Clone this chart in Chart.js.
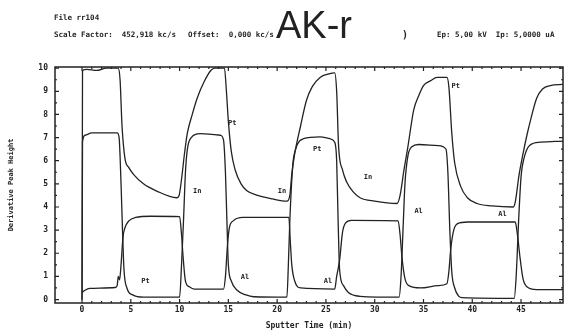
<!DOCTYPE html>
<html>
<head>
<meta charset="utf-8">
<script src="https://cdn.jsdelivr.net/npm/chart.js@4.4.1/dist/chart.umd.min.js"></script>
<style>
  body { margin: 0; background: #fff; }
  #wrap { position: relative; width: 566px; height: 334px; overflow: hidden; }
  .hdr { position: absolute; font-family: "DejaVu Sans Mono", monospace; font-weight: bold; font-size: 7.5px; color: #222; white-space: pre; }
  #big { position: absolute; left: 276px; top: 4px; font-family: "Liberation Sans", Arial, sans-serif; font-size: 38px; color: #222; }
</style>
</head>
<body>
<div id="wrap">
  <canvas id="myChart" width="566" height="334"></canvas>
  <div class="hdr" style="left:54px;top:13px">File rr104</div>
  <div class="hdr" style="left:54px;top:30px">Scale Factor:  452,918 kc/s</div>
  <div class="hdr" style="left:188px;top:30px">Offset:  0,000 kc/s</div>
  <div id="big">AK-r</div>
  <div class="hdr" style="left:402px;top:29px;font-size:10px">)</div>
  <div class="hdr" style="left:437px;top:30px">Ep: 5,00 kV  Ip: 5,0000 uA</div>
</div>
<script>
// sputter time (min) / derivative peak height
const ptTime  = [0, 0.05, 0.5, 1.5, 2.5, 3.7, 3.9, 4.1, 4.4, 4.8, 5.3, 6.3, 7.6, 9.7, 9.95, 10.2, 10.5, 10.8, 11.3, 11.8, 12.5, 13.2, 13.6, 14.6, 14.8, 15.0, 15.3, 15.7, 16.3, 16.9, 18.0, 19.5, 21.0, 21.3, 21.5, 21.8, 22.4, 23.0, 23.6, 24.4, 25.3, 25.9, 26.1, 26.3, 26.7, 27.1, 27.8, 28.5, 30.0, 32.3, 32.6, 33.0, 33.4, 34.0, 34.5, 35.0, 35.7, 36.4, 37.4, 37.6, 37.9, 38.2, 38.8, 39.5, 40.5, 42.0, 44.2, 44.4, 44.8, 45.2, 45.6, 46.0, 46.6, 47.2, 48.0, 49.3];
const ptValue = [0, 9.9, 9.95, 9.9, 10, 10, 9.5, 7.5, 6.1, 5.7, 5.4, 5.0, 4.7, 4.4, 4.5, 5.2, 6.3, 7.2, 8.0, 8.7, 9.4, 9.9, 10, 10, 9.0, 7.7, 6.4, 5.6, 5.0, 4.7, 4.5, 4.35, 4.25, 4.5, 5.4, 6.3, 7.5, 8.6, 9.2, 9.6, 9.75, 9.8, 9.0, 6.6, 5.6, 5.1, 4.65, 4.4, 4.25, 4.15, 4.5, 5.6, 6.6, 8.2, 8.8, 9.25, 9.45, 9.6, 9.6, 9.2, 7.2, 5.9, 4.9, 4.4, 4.15, 4.05, 4.0, 4.2, 5.4, 6.3, 7.1, 7.8, 8.7, 9.1, 9.25, 9.3];

const inTime  = [0, 0.05, 0.3, 1.0, 3.6, 3.8, 4.0, 4.15, 4.3, 4.6, 5.2, 6.3, 10.0, 10.2, 10.4, 10.6, 10.8, 11.2, 12.1, 14.2, 14.5, 14.7, 14.85, 15.0, 15.3, 15.9, 16.8, 17.6, 21.0, 21.15, 21.3, 21.6, 21.9, 22.7, 24.4, 25.4, 25.9, 26.1, 26.25, 26.4, 26.8, 27.3, 28.5, 32.5, 32.7, 32.9, 33.1, 33.4, 33.8, 34.5, 36.5, 37.3, 37.5, 37.7, 37.9, 38.2, 38.6, 39.0, 44.3, 44.5, 44.75, 45.0, 45.3, 45.9, 47.0, 49.3];
const inValue = [0, 6.8, 7.1, 7.2, 7.2, 7.0, 5.0, 3.0, 1.3, 0.5, 0.2, 0.1, 0.1, 1.5, 3.4, 5.5, 6.5, 7.0, 7.17, 7.1, 6.9, 5.5, 3.4, 1.5, 0.8, 0.4, 0.2, 0.12, 0.1, 1.5, 3.4, 5.8, 6.5, 6.95, 7.03, 6.95, 6.8, 6.0, 3.4, 1.3, 0.6, 0.3, 0.14, 0.1, 1.0, 3.0, 5.0, 6.2, 6.6, 6.7, 6.65, 6.5, 5.5, 3.0, 1.2, 0.5, 0.15, 0.08, 0.05, 1.0, 3.4, 5.3, 6.1, 6.67, 6.8, 6.85];

const alTime  = [0, 0.3, 0.8, 3.4, 3.6, 3.72, 3.85, 4.0, 4.2, 4.4, 4.8, 5.5, 7.0, 10.0, 10.2, 10.35, 10.6, 11.0, 11.5, 14.5, 14.7, 14.9, 15.1, 15.5, 16.5, 21.2, 21.35, 21.5, 21.8, 22.4, 25.9, 26.1, 26.4, 26.7, 27.0, 27.6, 32.4, 32.6, 32.8, 33.1, 33.5, 34.7, 36.5, 37.4, 37.6, 37.8, 38.1, 38.5, 39.5, 44.4, 44.6, 44.9, 45.2, 45.6, 46.6, 49.3];
const alValue = [0.3, 0.4, 0.48, 0.52, 0.6, 1.0, 0.85, 1.5, 2.7, 3.1, 3.4, 3.55, 3.6, 3.58, 2.8, 1.9, 0.8, 0.55, 0.45, 0.45, 1.0, 2.3, 3.1, 3.4, 3.55, 3.55, 2.5, 1.5, 0.8, 0.5, 0.45, 1.0, 1.7, 2.9, 3.3, 3.42, 3.4, 2.8, 1.8, 0.9, 0.6, 0.5, 0.6, 0.68, 1.2, 2.2, 3.0, 3.28, 3.35, 3.35, 2.9, 1.8, 0.9, 0.55, 0.43, 0.43];

const xTicks = [0, 5, 10, 15, 20, 25, 30, 35, 40, 45];
const yTicks = [0, 1, 2, 3, 4, 5, 6, 7, 8, 9, 10];

// curve tags written on the plot
const tagText = ['Pt', 'In', 'Pt', 'In', 'Pt', 'In', 'Al', 'Al', 'Pt', 'Al', 'Al'];
const tagX    = [6.5, 11.8, 15.4, 20.5, 24.1, 29.3, 16.7, 25.2, 38.3, 34.5, 43.1];
const tagY    = [0.78, 4.7, 7.6, 4.7, 6.5, 5.3, 0.95, 0.78, 9.2, 3.8, 3.7];

const ink = '#222';
const monoFont = { family: 'DejaVu Sans Mono', size: 8, weight: 'bold' };

const pairs = (xs, ys) => xs.map((x, i) => ({ x: x, y: ys[i] }));

const frame = {
  id: 'frame',
  afterDatasetsDraw(chart) {
    const { ctx, chartArea: a, scales: { x, y } } = chart;
    ctx.save();
    ctx.strokeStyle = ink;
    ctx.lineWidth = 1.5;
    ctx.strokeRect(a.left, a.top, a.right - a.left, a.bottom - a.top);
    ctx.lineWidth = 1.2;
    ctx.beginPath();
    for (let v = 0; v <= 10; v += 0.5) {
      const p = y.getPixelForValue(v);
      const len = v % 1 === 0 ? 4 : 2;
      ctx.moveTo(a.left, p); ctx.lineTo(a.left + len, p);
      ctx.moveTo(a.right, p); ctx.lineTo(a.right - len, p);
    }
    for (let v = 0; v <= 49; v += 1) {
      const p = x.getPixelForValue(v);
      const len = v % 5 === 0 ? 4 : 2;
      ctx.moveTo(p, a.bottom); ctx.lineTo(p, a.bottom - len);
      ctx.moveTo(p, a.top); ctx.lineTo(p, a.top + len);
    }
    ctx.stroke();
    ctx.fillStyle = ink;
    ctx.font = 'bold 7px "DejaVu Sans Mono"';
    ctx.textAlign = 'center';
    ctx.textBaseline = 'middle';
    tagText.forEach((t, i) => {
      ctx.fillText(t, x.getPixelForValue(tagX[i]), y.getPixelForValue(tagY[i]));
    });
    ctx.restore();
  }
};

const line = (xs, ys) => ({
  data: pairs(xs, ys),
  showLine: true,
  borderColor: ink,
  borderWidth: 1.3,
  pointRadius: 0,
  cubicInterpolationMode: 'monotone'
});

new Chart(document.getElementById('myChart'), {
  type: 'scatter',
  data: {
    datasets: [line(ptTime, ptValue), line(inTime, inValue), line(alTime, alValue)]
  },
  options: {
    responsive: false,
    animation: false,
    devicePixelRatio: 1,
    layout: { padding: { top: 67, right: 3, bottom: 3, left: 0 } },
    plugins: { legend: { display: false }, tooltip: { enabled: false } },
    scales: {
      x: {
        type: 'linear',
        min: -2.77,
        max: 49.3,
        afterBuildTicks: s => { s.ticks = xTicks.map(v => ({ value: v })); },
        afterFit: s => { s.height = 28; },
        grid: { display: false, drawTicks: false },
        border: { display: false },
        ticks: { color: ink, font: monoFont, padding: 2, maxRotation: 0 },
        title: { display: true, text: 'Sputter Time (min)', color: ink, font: monoFont, padding: { top: 1, bottom: 0 } }
      },
      y: {
        min: -0.15,
        max: 10.05,
        afterBuildTicks: s => { s.ticks = yTicks.map(v => ({ value: v })); },
        afterFit: s => { s.width = 55; },
        grid: { display: false, drawTicks: false },
        border: { display: false },
        ticks: { color: ink, font: monoFont, padding: 7 },
        title: { display: true, text: 'Derivative Peak Height', color: ink, font: { family: 'DejaVu Sans Mono', size: 7, weight: 'bold' }, padding: { top: 7, bottom: 0 } }
      }
    }
  },
  plugins: [frame]
});
</script>
</body>
</html>
